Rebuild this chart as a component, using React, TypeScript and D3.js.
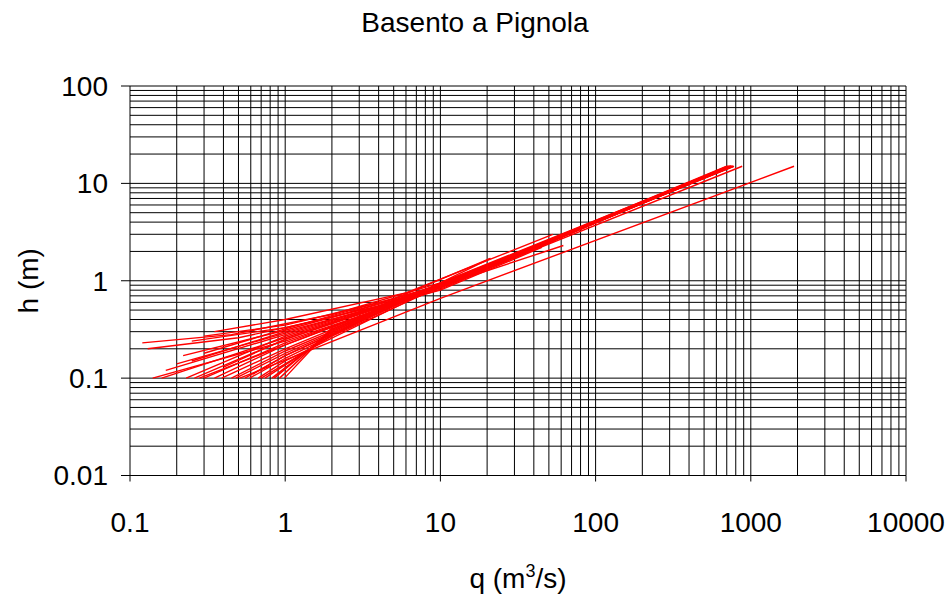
import { useRef, useEffect } from 'react';
import * as d3 from 'd3';

// rating curves: each is a list of [q (m3/s), h (m)] points
const flatCurves: [number, number][][] = [
  [[0.12, 0.23], [0.45, 0.28], [2, 0.45], [10, 0.95], [60, 2.9]],
  [[0.13, 0.2], [0.5, 0.26], [2, 0.42], [10, 0.9], [750, 15]],
  [[0.3, 0.27], [1, 0.35], [5, 0.65], [21, 1.7]],
  [[0.35, 0.3], [1, 0.4], [6, 0.75], [53, 3.0]],
  [[0.25, 0.24], [1, 0.33], [4, 0.55], [10, 0.88], [770, 15]],
];

const steepCurves: [number, number][][] = [
  [[0.14, 0.1], [1, 0.24], [10, 0.82], [720, 15]],
  [[0.16, 0.1], [1, 0.26], [10, 0.86], [750, 15]],
  [[0.23, 0.1], [1, 0.27], [10, 0.85], [760, 15]],
  [[0.26, 0.1], [1, 0.25], [10, 0.88], [740, 15]],
  [[0.28, 0.1], [1, 0.22], [10, 0.87], [48, 2.4]],
  [[0.3, 0.1], [1, 0.23], [10, 0.85], [880, 15]],
  [[0.35, 0.1], [1, 0.22], [10, 0.9], [700, 15]],
  [[0.39, 0.1], [1, 0.2], [10, 0.92], [780, 15]],
  [[0.45, 0.1], [1, 0.19], [10, 0.88], [62, 2.3]],
  [[0.48, 0.1], [1, 0.18], [10, 0.9], [725, 15]],
  [[0.51, 0.1], [10, 0.66], [1900, 15]],
  [[0.55, 0.1], [1, 0.17], [10, 0.93], [760, 15]],
  [[0.59, 0.1], [1, 0.16], [10, 0.95], [730, 15]],
  [[0.62, 0.11], [1, 0.17], [10, 0.9], [58, 2.8]],
  [[0.67, 0.1], [1, 0.15], [10, 0.9], [55, 2.6]],
  [[0.7, 0.1], [2, 0.27], [10, 0.87], [715, 15]],
  [[0.74, 0.1], [2, 0.28], [10, 0.92], [745, 15]],
  [[0.82, 0.1], [2, 0.3], [10, 0.95], [21, 1.7]],
  [[0.85, 0.1], [2, 0.31], [10, 0.92], [740, 15]],
  [[0.92, 0.1], [2, 0.32], [10, 0.88], [50, 2.5]],
  [[0.99, 0.1], [2, 0.33], [10, 0.9], [735, 15]],
];

const midCurves: [number, number][][] = [
  [[0.17, 0.12], [1, 0.28], [10, 0.85], [740, 15]],
  [[0.22, 0.17], [1, 0.31], [10, 0.86], [750, 15]],
  [[0.25, 0.15], [1, 0.3], [10, 0.8], [45, 2.2]],
  [[0.3, 0.18], [1, 0.32], [10, 0.9], [770, 15]],
  [[0.4, 0.13], [1, 0.25], [10, 0.85], [710, 15]],
  [[0.2, 0.14], [1, 0.29], [4, 0.55], [18, 1.3]],
];

const xTicks = [0.1, 1, 10, 100, 1000, 10000];
const yTicks = [0.01, 0.1, 1, 10, 100];

export default function App() {
  const ref = useRef<SVGSVGElement>(null);

  useEffect(() => {
    const width = 950;
    const height = 598;
    const left = 130, right = 906, top = 86, bottom = 475.5;

    const svg = d3.select(ref.current);
    svg.selectAll('*').remove();

    const x = d3.scaleLog().domain([0.1, 10000]).range([left, right]);
    const y = d3.scaleLog().domain([0.01, 100]).range([bottom, top]);

    // all grid lines, every 1..9 in each decade
    const gx: number[] = [];
    for (let e = -1; e < 4; e++) for (let k = 1; k <= 9; k++) gx.push(k * Math.pow(10, e));
    gx.push(10000);
    const gy: number[] = [];
    for (let e = -2; e < 2; e++) for (let k = 1; k <= 9; k++) gy.push(k * Math.pow(10, e));
    gy.push(100);

    const grid = svg.append('g').attr('stroke', '#000').attr('stroke-width', 1);
    grid.selectAll('line.v').data(gx).join('line')
      .attr('class', 'v')
      .attr('x1', d => x(d)).attr('x2', d => x(d))
      .attr('y1', top).attr('y2', bottom);
    grid.selectAll('line.h').data(gy).join('line')
      .attr('class', 'h')
      .attr('x1', left).attr('x2', right)
      .attr('y1', d => y(d)).attr('y2', d => y(d));

    // major tick marks outside the plot
    grid.selectAll('line.ty').data(yTicks).join('line')
      .attr('class', 'ty')
      .attr('x1', left - 9).attr('x2', left)
      .attr('y1', d => y(d)).attr('y2', d => y(d));
    grid.selectAll('line.tx').data(xTicks).join('line')
      .attr('class', 'tx')
      .attr('x1', d => x(d)).attr('x2', d => x(d))
      .attr('y1', bottom).attr('y2', bottom + 6);

    const line = d3.line<[number, number]>()
      .x(d => x(d[0]))
      .y(d => y(d[1]));

    const curves = [...flatCurves, ...steepCurves, ...midCurves];
    svg.append('g').selectAll('path').data(curves).join('path')
      .attr('fill', 'none')
      .attr('stroke', '#ff0000')
      .attr('stroke-width', 1.4)
      .attr('d', line);

    const font = "'Liberation Sans', Arial, sans-serif";
    const fs = 28;
    const fmt = (d: number) => String(d);

    svg.append('g').selectAll('text').data(yTicks).join('text')
      .attr('x', left - 22).attr('y', d => y(d))
      .attr('dy', '0.35em')
      .attr('text-anchor', 'end')
      .attr('font-family', font).attr('font-size', fs)
      .text(fmt);

    svg.append('g').selectAll('text').data(xTicks).join('text')
      .attr('x', d => x(d)).attr('y', bottom + 56)
      .attr('text-anchor', 'middle')
      .attr('font-family', font).attr('font-size', fs)
      .text(fmt);

    svg.append('text')
      .attr('x', width / 2).attr('y', 32)
      .attr('text-anchor', 'middle')
      .attr('font-family', font).attr('font-size', fs)
      .text('Basento a Pignola');

    svg.append('text')
      .attr('transform', `translate(38,${(top + bottom) / 2}) rotate(-90)`)
      .attr('text-anchor', 'middle')
      .attr('font-family', font).attr('font-size', fs)
      .text('h (m)');

    const xt = svg.append('text')
      .attr('x', (left + right) / 2).attr('y', height - 10)
      .attr('text-anchor', 'middle')
      .attr('font-family', font).attr('font-size', fs);
    xt.append('tspan').text('q (m');
    xt.append('tspan').attr('font-size', 18).attr('dy', -11).text('3');
    xt.append('tspan').attr('dy', 11).text('/s)');
  }, []);

  return (
    <svg ref={ref} width={950} height={598}
      style={{ position: 'absolute', left: 0, top: 0, background: '#fff' }} />
  );
}
